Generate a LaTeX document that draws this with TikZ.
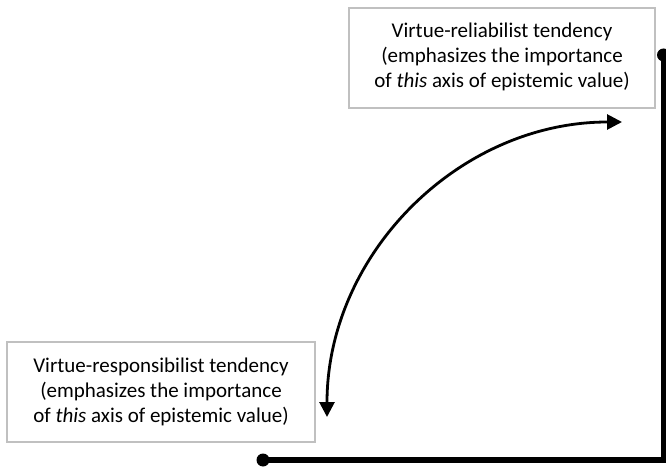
\documentclass[tikz,border=0pt]{standalone}
\usepackage{fontspec}
\setmainfont{Carlito}
\usetikzlibrary{arrows.meta}
\definecolor{boxgray}{RGB}{192,192,192}
\tikzset{
  txtbox/.style={draw=boxgray, line width=1.5pt, fill=white, minimum width=306pt, minimum height=100pt,
    align=center, font=\fontsize{21pt}{25pt}\selectfont, inner sep=0pt},
  axis/.style={line width=6pt},
  dotend/.style={circle, fill=black, inner sep=0pt, minimum size=13pt},
  arc/.style={line width=2.8pt, {Triangle[length=15pt,width=15pt]}-{Triangle[length=15pt,width=15pt]}}
}
\begin{document}
\begin{tikzpicture}[x=1pt,y=1pt]
\useasboundingbox (0,0) rectangle (666,466);
\node[txtbox] (rel) at (502,408) {\raisebox{-4pt}{\begin{tabular}{@{}c@{}}Virtue-reliabilist tendency\\(emphasizes the importance\\of \textit{this} axis of epistemic value)\end{tabular}}};
\node[txtbox, minimum width=308pt] (resp) at (161,74) {\raisebox{-4pt}{\begin{tabular}{@{}c@{}}Virtue-responsibilist tendency\\(emphasizes the importance\\of \textit{this} axis of epistemic value)\end{tabular}}};
\node[dotend] (top) at (663.5,411) {};
\node[dotend] (left) at (263,6) {};
\coordinate (corner) at (663.5,6);
\draw[axis] (top.center) -- (corner) -- (left.center);
\draw[axis] (corner) -- (680,6);
\coordinate (tipA) at (327,49);
\coordinate (tipB) at (622,344);
\draw[arc] (tipA) .. controls (327,212) and (459,344) .. (tipB);
\end{tikzpicture}
\end{document}
